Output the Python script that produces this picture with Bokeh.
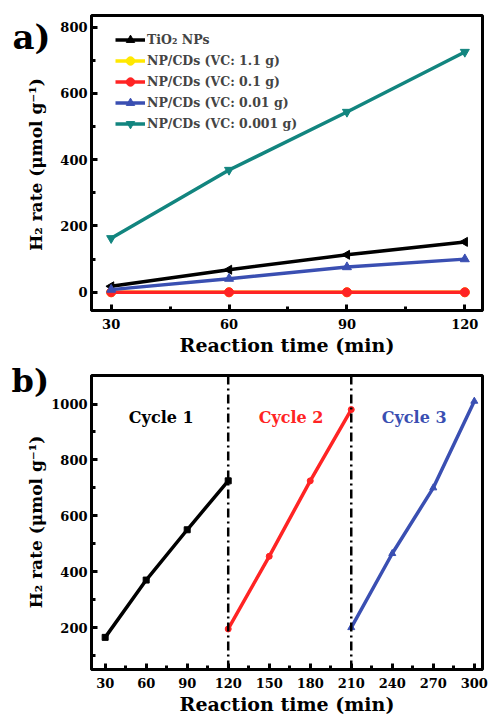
from bokeh.plotting import figure
from bokeh.layouts import column, row
from bokeh.models import FixedTicker, Range1d, Label, Span, Legend, LegendItem
from bokeh.embed import file_html
from bokeh.resources import INLINE

# ---------- data: panel a ----------
time_a = [30, 60, 90, 120]
tio2 = [18, 68, 113, 152]
vc_1_1 = [0, 0, 0, 0]
vc_0_1 = [0, 0, 0, 0]
vc_0_01 = [8, 41, 76, 100]
vc_0_001 = [163, 369, 544, 725]
labels_a = ["TiO\u2082 NPs", "NP/CDs (VC: 1.1 g)", "NP/CDs (VC: 0.1 g)",
            "NP/CDs (VC: 0.01 g)", "NP/CDs (VC: 0.001 g)"]
xticks_a = [30, 60, 90, 120]
yticks_a = [0, 200, 400, 600, 800]

# ---------- data: panel b ----------
cycle1_t = [30, 60, 90, 120]
cycle1_v = [165, 370, 550, 725]
cycle2_t = [120, 150, 180, 210]
cycle2_v = [195, 455, 725, 980]
cycle3_t = [210, 240, 270, 300]
cycle3_v = [200, 465, 700, 1010]
cycle_names = ["Cycle 1", "Cycle 2", "Cycle 3"]
cycle_boundaries = [120, 210]
xticks_b = [30, 60, 90, 120, 150, 180, 210, 240, 270, 300]
yticks_b = [200, 400, 600, 800, 1000]

X_LABEL = "Reaction time (min)"
Y_LABEL = "H\u2082 rate (\u03bcmol g\u207b\u00b9)"
PANEL_LETTERS = ["a)", "b)"]

FONT = "DejaVu Serif"
BLACK = "#000000"
YELLOW = "#FFE800"
RED = "#FF2424"
BLUE = "#3A4FB2"
TEAL = "#12857F"

STRIP_W = 48
H_A = 360
H_B = 358


def style(p, xt, yt, xminor, yminor):
    p.outline_line_color = "black"
    p.outline_line_width = 3
    p.grid.visible = False
    for ax in (p.xaxis[0], p.yaxis[0]):
        ax.axis_line_width = 3
        ax.major_tick_in = 6
        ax.major_tick_out = 0
        ax.minor_tick_in = 4
        ax.minor_tick_out = 0
        ax.major_tick_line_width = 3
        ax.minor_tick_line_width = 3
        ax.major_label_text_font = FONT
        ax.major_label_text_font_style = "bold"
        ax.major_label_text_font_size = "13px"
        ax.major_label_text_color = "black"
        ax.axis_label_text_font = FONT
        ax.axis_label_text_font_style = "bold"
        ax.axis_label_text_font_size = "19px"
        ax.axis_label_text_color = "black"
    p.xaxis[0].ticker = FixedTicker(ticks=xt, minor_ticks=xminor)
    p.yaxis[0].ticker = FixedTicker(ticks=yt, minor_ticks=yminor)
    p.xaxis[0].major_label_standoff = 8
    p.yaxis[0].major_label_standoff = 4
    p.xaxis[0].axis_label_standoff = 2


# ---------- panel a ----------
pa = figure(width=488 - STRIP_W, height=H_A, output_backend="svg",
            toolbar_location=None, x_range=Range1d(25, 124.5),
            y_range=Range1d(-55, 835),
            min_border_left=41, min_border_right=3, min_border_top=15,
            min_border_bottom=50, x_axis_label=X_LABEL)
style(pa, xticks_a, yticks_a, [45, 75, 105], [100, 300, 500, 700])

series = [
    (tio2, BLACK, "triangle", 90),
    (vc_1_1, YELLOW, "circle", 0),
    (vc_0_1, RED, "circle", 0),
    (vc_0_01, BLUE, "triangle", 0),
    (vc_0_001, TEAL, "inverted_triangle", 0),
]
items = []
for (vals, col, mk, ang), lab in zip(series, labels_a):
    r1 = pa.line(time_a, vals, line_color=col, line_width=3.5)
    r2 = pa.scatter(time_a, vals, marker=mk, size=9, angle=ang,
                    angle_units="deg", fill_color=col, line_color=col)
    items.append(LegendItem(label=lab, renderers=[r1, r2]))

leg = Legend(items=items, location=(22, 174), background_fill_alpha=0,
             border_line_alpha=0, label_text_font=FONT,
             label_text_font_style="bold", label_text_font_size="12.5px",
             label_height=21, glyph_height=21, glyph_width=30, spacing=0,
             margin=0, padding=2, label_standoff=2)
pa.add_layout(leg)

# ---------- panel b ----------
pb = figure(width=488 - STRIP_W, height=H_B, output_backend="svg",
            toolbar_location=None, x_range=Range1d(20, 306),
            y_range=Range1d(50, 1102),
            min_border_left=41, min_border_right=6, min_border_top=15,
            min_border_bottom=49, x_axis_label=X_LABEL)
style(pb, xticks_b, yticks_b,
      [45, 75, 105, 135, 165, 195, 225, 255, 285], [100, 300, 500, 700, 900])

for xb in cycle_boundaries:
    pb.add_layout(Span(location=xb, dimension="height", line_color="black",
                       line_width=2.5, line_dash="9 4 2 4"))

pb.line(cycle1_t, cycle1_v, line_color=BLACK, line_width=3.5)
pb.scatter(cycle1_t, cycle1_v, marker="square", size=6, color=BLACK)
pb.line(cycle2_t, cycle2_v, line_color=RED, line_width=3.5)
pb.scatter(cycle2_t, cycle2_v, marker="circle", size=6, color=RED)
pb.line(cycle3_t, cycle3_v, line_color=BLUE, line_width=3.5)
pb.scatter(cycle3_t, cycle3_v, marker="triangle", size=7, color=BLUE)

for name, xc, col in zip(cycle_names, [71, 166, 256], [BLACK, RED, BLUE]):
    pb.add_layout(Label(x=xc, y=950, text=name, text_font=FONT,
                        text_font_style="bold", text_font_size="16px",
                        text_align="center", text_baseline="middle",
                        text_color=col))

# ---------- left strip: panel letters and the shared y-axis titles ----------
strip = figure(width=STRIP_W, height=H_A + H_B, output_backend="svg",
               toolbar_location=None, x_axis_location=None,
               y_axis_location=None, min_border=0, outline_line_color=None,
               x_range=Range1d(0, STRIP_W), y_range=Range1d(H_A + H_B, 0))
strip.grid.visible = False
for letter, lx, ly, ls in zip(PANEL_LETTERS, [12, 11], [36, 380], [34, 32]):
    strip.add_layout(Label(x=lx, y=ly, text=letter, text_font=FONT,
                           text_font_style="bold", text_font_size=f"{ls}px",
                           text_baseline="middle", text_color="black"))
for cy in [164, H_A + 15 + 146.5]:
    strip.add_layout(Label(x=35, y=cy, text=Y_LABEL, text_font=FONT,
                           text_font_style="bold", text_font_size="17px",
                           angle=90, angle_units="deg", text_align="center",
                           text_baseline="middle", text_color="black"))

layout = row(strip, column(pa, pb, spacing=0), spacing=0)
open("out.html", "w").write(file_html(layout, INLINE))
